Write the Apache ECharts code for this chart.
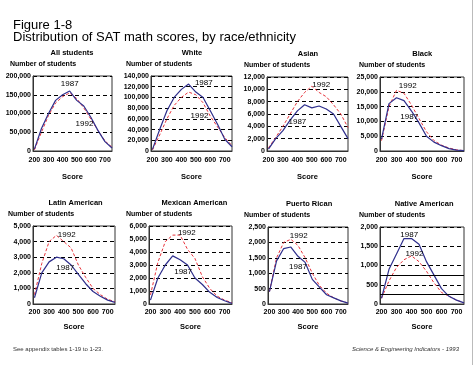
<!DOCTYPE html>
<html><head><meta charset="utf-8">
<script src="https://cdn.jsdelivr.net/npm/echarts@6/dist/echarts.min.js"></script>
<style>html,body{margin:0;padding:0;background:#fff}#c{width:474px;height:365px}</style>
</head><body><div id="c"></div>
<script>
// ---- data ----
const scores = [200,250,300,350,400,450,500,550,600,650,700,750];
const xTickLabels = [200,300,400,500,600,700];
const panelNames = ['All students','White','Asian','Black','Latin American','Mexican American','Puerto Rican','Native American'];
const all1987 = [5000,60000,100000,135000,150000,160000,135000,120000,90000,55000,25000,8000];
const all1992 = [3000,50000,95000,128000,145000,155000,140000,115000,85000,55000,27000,10000];
const white1987 = [3000,40000,75000,100000,115000,125000,110000,100000,75000,50000,22000,8000];
const white1992 = [2000,30000,60000,85000,100000,110000,105000,90000,65000,45000,25000,10000];
const asian1987 = [300,2000,3300,5000,6500,7500,7000,7300,6800,6000,4000,2000];
const asian1992 = [500,2200,4000,6000,8000,9500,10500,9500,8800,7500,6000,3800];
const black1987 = [4000,16000,18000,17000,13500,9500,5000,3000,1800,800,300,100];
const black1992 = [3500,15000,20500,19500,15500,11000,6500,3500,2000,1000,400,100];
const latin1987 = [400,2000,2700,3000,2900,2500,1900,1300,800,500,250,100];
const latin1992 = [600,2600,4000,4400,4000,3600,2500,1700,1000,600,300,150];
const mexican1987 = [300,2000,3000,3700,3400,3000,2000,1500,900,500,250,50];
const mexican1992 = [700,3200,4800,5300,5300,4200,3500,2100,1200,600,300,100];
const puerto1987 = [400,1400,1800,1850,1550,1350,800,550,300,200,100,30];
const puerto1992 = [400,1500,2000,2100,1900,1500,1000,600,350,200,100,30];
const native1987 = [150,900,1300,1700,1700,1550,1100,750,400,200,100,30];
const native1992 = [150,600,950,1150,1250,1100,850,550,300,200,100,30];
const yMax = [200000,140000,12000,25000,5000,6000,2500,2000];
const yStep = [50000,20000,2000,5000,1000,1000,500,500];
const nativeSolidLines = [250,750];
// label anchor points [score, value] for "1987" and "1992"
const label1987 = [[450,178000],[555,128000],[400,4800],[385,11500],[410,2300],[420,2450],[400,1200],[385,1800]];
const label1992 = [[555,72000],[525,65000],[565,10800],[375,22000],[420,4420],[445,5460],[405,2210],[420,1300]];

const s1987 = [all1987,white1987,asian1987,black1987,latin1987,mexican1987,puerto1987,native1987];
const s1992 = [all1992,white1992,asian1992,black1992,latin1992,mexican1992,puerto1992,native1992];

// ---- layout ----
const boxes = [
  [33,76,79,75],[151,76,81,75],[267,77,81,74],[380,77,84,74],
  [33,226,82,78],[149,226,83,78],[268,227,80,77],[380,227,84,77]
];
const ylabOffset = [23,25,23,21,25,23,24,21];
const font = 'Arial, "Liberation Sans", sans-serif';
const grid=[],xAxis=[],yAxis=[],series=[],title=[],graphic=[];
title.push({text:'Figure 1-8',left:8,top:14,textStyle:{fontFamily:font,fontSize:13,fontWeight:'normal',color:'#000'}});
title.push({text:'Distribution of SAT math scores, by race/ethnicity',left:8,top:26,textStyle:{fontFamily:font,fontSize:13,fontWeight:'normal',color:'#000'}});
title.push({text:'See appendix tables 1-19 to 1-23.',left:8,top:341,textStyle:{fontFamily:font,fontSize:6,fontWeight:'normal',color:'#333'}});
title.push({text:'Science & Engineering Indicators - 1993',right:10,top:341,textStyle:{fontFamily:font,fontSize:6,fontStyle:'italic',fontWeight:'normal',color:'#333'}});
const fmt = v => v.toLocaleString('en-US');
panelNames.forEach((name,i)=>{
  const [l,t,w,h]=boxes[i];
  const row2 = i>=4;
  grid.push({left:l,top:t,width:w,height:h,show:true,borderColor:'#333',borderWidth:1,backgroundColor:'transparent'});
  graphic.push({type:'text',left:l+w/2-1-name.length*1.75,top:t-27,
    style:{text:name,font:'bold 7.5px '+font,fill:'#000'}});
  graphic.push({type:'text',left:l-ylabOffset[i],top:t-15,
    style:{text:'Number of students',font:'bold 7px '+font,fill:'#000'}});
  xAxis.push({type:'value',gridIndex:i,min:190,max:750,
    axisLine:{show:true,lineStyle:{color:'#333'}},axisTick:{show:false},splitLine:{show:false},
    axisLabel:{customValues:xTickLabels,fontFamily:font,fontSize:7,fontWeight:'bold',color:'#000',margin:row2?5:6},
    name:'Score',nameLocation:'middle',nameGap:row2?19:22,nameTextStyle:{fontFamily:font,fontSize:7.5,fontWeight:'bold',color:'#000'}});
  yAxis.push({type:'value',gridIndex:i,min:0,max:yMax[i],interval:yStep[i],
    axisLine:{show:true,lineStyle:{color:'#333'}},axisTick:{show:false},
    splitLine:{show:true,lineStyle:{color:'#000',type:[4,3],width:1}},
    axisLabel:{formatter:fmt,fontFamily:font,fontSize:7,fontWeight:'bold',color:'#000',margin:2}});
  const lbl = (txt,pt)=>({coord:pt,symbol:'circle',symbolSize:0,value:txt,
      label:{show:true,formatter:txt,position:'inside',fontFamily:font,fontSize:8,color:'#000'}});
  const s87 = {type:'line',xAxisIndex:i,yAxisIndex:i,symbol:'none',
    data:scores.map((x,k)=>[x,s1987[i][k]]),lineStyle:{color:'#2e2e8c',width:1.2},
    markPoint:{silent:true,data:[lbl('1987',label1987[i])]},z:3};
  if(i===7){
    s87.markLine={silent:true,symbol:'none',label:{show:false},lineStyle:{color:'#000',type:'solid',width:1},
      data:nativeSolidLines.map(v=>({yAxis:v}))};
  }
  series.push(s87);
  series.push({type:'line',xAxisIndex:i,yAxisIndex:i,symbol:'none',
    data:scores.map((x,k)=>[x,s1992[i][k]]),lineStyle:{color:'#e8333b',width:1,type:[3,2]},
    markPoint:{silent:true,data:[lbl('1992',label1992[i])]},z:2});
});
graphic.push({type:'line',shape:{x1:472.5,y1:0,x2:472.5,y2:365},style:{stroke:'#bbb',lineWidth:1}});
const chart = echarts.init(document.getElementById('c'),null,{renderer:'canvas'});
chart.setOption({animation:false,backgroundColor:'#fff',title,grid,xAxis,yAxis,series,graphic});
</script>
</body></html>
